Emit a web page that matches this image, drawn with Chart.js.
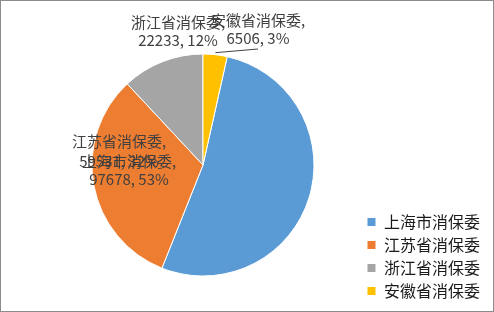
<!DOCTYPE html>
<html>
<head>
<meta charset="utf-8">
<script src="https://cdn.jsdelivr.net/npm/chart.js@4"></script>
<style>
  html, body { margin: 0; padding: 0; background: #fff; }
  #wrap { width: 494px; height: 312px; position: relative; }
</style>
</head>
<body>
<div id="wrap"><canvas id="myChart"></canvas></div>
<script>
const labels = ['上海市消保委', '江苏省消保委', '浙江省消保委', '安徽省消保委'];
const values = [97678, 59531, 22233, 6506];
const colors = ['#5B9BD5', '#ED7D31', '#A5A5A5', '#FFC000'];

// where Excel left each data label (two lines: name, value+percent)
const labelPos = [
  { x: 129, y1: 161, y2: 179 },
  { x: 119, y1: 141, y2: 161 },
  { x: 178, y1: 22, y2: 40 },
  { x: 258, y1: 20, y2: 38 }
];

const total = values.reduce((a, b) => a + b, 0);
// the last slice ends at 12 o'clock, so turn the pie by its share
const rotation = values[values.length - 1] / total * 360;

const pieLabels = {
  id: 'pieLabels',
  afterDatasetsDraw(chart) {
    const c = chart.ctx;
    const arcs = chart.getDatasetMeta(0).data;
    c.save();
    // leader line for the small yellow slice
    const a = arcs[3];
    const mid = (a.startAngle + a.endAngle) / 2;
    c.strokeStyle = '#404040';
    c.lineWidth = 1;
    c.beginPath();
    c.moveTo(a.x + Math.cos(mid) * (a.outerRadius + 2), a.y + Math.sin(mid) * (a.outerRadius + 2));
    c.lineTo(labelPos[3].x, labelPos[3].y2 + 11);
    c.stroke();

    c.fillStyle = '#404040';
    c.font = '15px "Noto Sans CJK SC", sans-serif';
    c.textAlign = 'center';
    c.textBaseline = 'middle';
    values.forEach((v, i) => {
      const p = labelPos[i];
      const pct = Math.round(v / total * 100);
      c.fillText(labels[i] + ',', p.x, p.y1);
      c.fillText(v + ', ' + pct + '%', p.x, p.y2);
    });
    c.restore();
  }
};

const frame = {
  id: 'frame',
  afterDraw(chart) {
    const c = chart.ctx;
    c.save();
    c.strokeStyle = '#8c8c8c';
    c.lineWidth = 1;
    c.strokeRect(0.5, 0.5, chart.width - 1, chart.height - 1);
    c.restore();
  }
};

const ctx = document.getElementById('myChart').getContext('2d');
const myChart = new Chart(ctx, {
  type: 'pie',
  data: {
    labels,
    datasets: [{
      data: values,
      backgroundColor: colors,
      borderColor: '#ffffff',
      borderWidth: 1,
      radius: 111
    }]
  },
  options: {
    responsive: true,
    maintainAspectRatio: false,
    animation: false,
    rotation: rotation,
    layout: { padding: { top: 24, bottom: 6, left: 46, right: 4 } },
    plugins: {
      tooltip: { enabled: false },
      legend: {
        position: 'right',
        align: 'end',
        labels: {
          boxWidth: 9,
          boxHeight: 9,
          padding: 7,
          color: '#1a1a1a',
          font: { size: 16, family: '"Noto Sans CJK SC", sans-serif' }
        }
      }
    }
  },
  plugins: [pieLabels, frame]
});
</script>
</body>
</html>
